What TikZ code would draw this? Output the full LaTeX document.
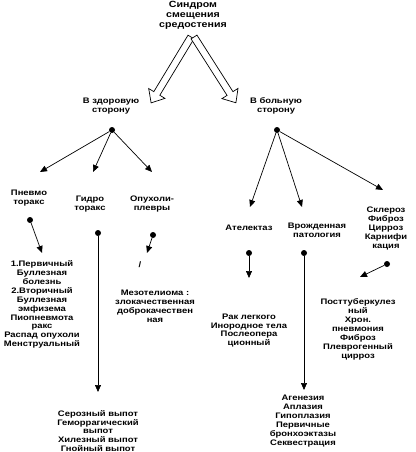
\documentclass[tikz,border=0pt]{standalone}
\usepackage{fontspec}
\setmainfont{Liberation Sans}[FakeStretch=1.18]
\usetikzlibrary{arrows.meta}
\tikzset{
  dot/.style={circle, fill=black, inner sep=0pt, minimum size=6pt},
  arr/.style={line width=0.7pt, -{Triangle[length=7pt,width=6pt]}},
  lbl/.style={align=center, font=\fontsize{8}{8.9}\selectfont\bfseries, inner sep=0pt},
  fat/.style={draw=black, fill=white, line width=0.7pt}
}

\begin{document}
\begin{tikzpicture}[x=1pt,y=-1pt]
    \useasboundingbox (0,0) rectangle (415,452);
    % title
    \node[lbl, font=\fontsize{9}{10}\selectfont\bfseries] (title) at (193,15) {Синдром\\смещения\\средостения};
    % the two wide arrows
    \begin{scope}[shift={(191,37)}, rotate=238.8]
        \draw[fat] (0,-3.5) -- (66,-3.5) -- (66,-9.5) -- (77,0) -- (66,9.5) -- (66,3.5) -- (0,3.5) -- cycle;
    \end{scope}
    \begin{scope}[shift={(194,37)}, rotate=-57.5]
        \draw[fat] (0,-3.5) -- (67,-3.5) -- (67,-9.5) -- (78,0) -- (67,9.5) -- (67,3.5) -- (0,3.5) -- cycle;
    \end{scope}
    \node[lbl] (healthy) at (111,106) {В здоровую\\сторону};
    \node[lbl] (sick) at (276,106) {В больную\\сторону};

    % healthy side
    \node[dot] (dl) at (112,130) {};
    \coordinate (tpn) at (40,172);
    \coordinate (tgi) at (93,172);
    \coordinate (top) at (152,172);
    \draw[arr] (dl) -- (tpn);
    \draw[arr] (dl) -- (tgi);
    \draw[arr] (dl) -- (top);
    \node[lbl] (pneumo) at (29,198) {Пневмо\\торакс};
    \node[lbl] (hydro) at (90,204) {Гидро\\торакс};
    \node[lbl] (tumor) at (152,204) {Опухоли-\\плевры};

    \node[dot] (dpn) at (30,220) {};
    \coordinate (epn) at (42,253);
    \draw[arr] (dpn) -- (epn);
    \node[lbl] (pneumolist) at (42,304.5) {1.Первичный\\Буллезная\\болезнь\\2.Вторичный\\Буллезная\\эмфизема\\Пиопневмота\\ракс\\Распад опухоли\\Менструальный};

    \node[dot] (dgi) at (98,233) {};
    \coordinate (egi) at (98,392);
    \draw[arr] (dgi) -- (egi);
    \node[lbl] (hydrolist) at (98,431) {Серозный выпот\\Геморрагический\\выпот\\Хилезный выпот\\Гнойный выпот};

    \node[dot] (dop) at (153,235) {};
    \coordinate (eop) at (147,253);
    \draw[arr] (dop) -- (eop);
    \node[lbl] (slash) at (140,265) {/};
    \node[lbl] (tumorlist) at (155,306.5) {Мезотелиома :\\злокачественная\\доброкачествен\\ная};

    % sick side
    \node[dot] (dr) at (277,130) {};
    \coordinate (tat) at (250,207);
    \coordinate (tvr) at (302,207);
    \coordinate (tsk) at (383,190);
    \draw[arr] (dr) -- (tat);
    \draw[arr] (dr) -- (tvr);
    \draw[arr] (dr) -- (tsk);
    \node[lbl] (atel) at (249,228) {Ателектаз};
    \node[lbl] (congen) at (317,230) {Врожденная\\патология};
    \node[lbl] (sclero) at (386,228.5) {Склероз\\Фиброз\\Цирроз\\Карнифи\\кация};

    \node[dot] (dat) at (249,253) {};
    \coordinate (eat) at (249,278);
    \draw[arr] (dat) -- (eat);
    \node[lbl] (atellist) at (249,330.5) {Рак легкого\\Инородное тела\\Послеопера\\ционный};

    \node[dot] (dvr) at (304,253) {};
    \coordinate (evr) at (304,390);
    \draw[arr] (dvr) -- (evr);
    \node[lbl] (congenlist) at (303,421) {Агенезия\\Аплазия\\Гипоплазия\\Первичные\\бронхоэктазы\\Секвестрация};

    \node[dot] (dsk) at (387,264) {};
    \coordinate (esk) at (360,277);
    \draw[arr] (dsk) -- (esk);
    \node[lbl] (sclerolist) at (358,329.5) {Посттуберкулез\\ный\\Хрон.\\пневмония\\Фиброз\\Плеврогенный\\цирроз};
\end{tikzpicture}
\end{document}
